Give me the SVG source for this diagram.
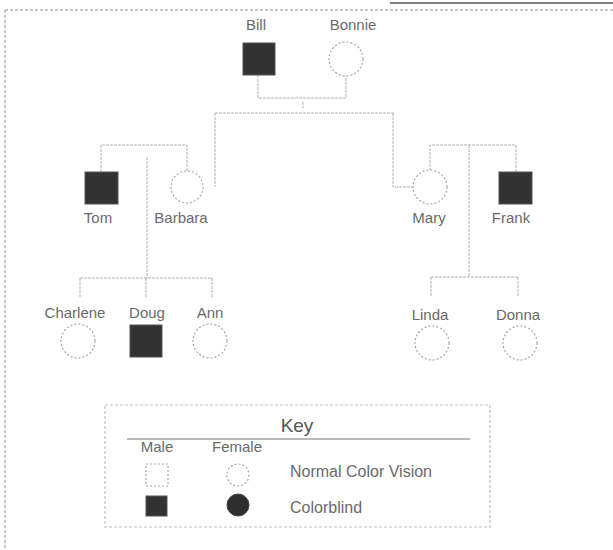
<svg xmlns="http://www.w3.org/2000/svg" width="613" height="550" viewBox="0 0 613 550">
<style>
  .lbl { font-family: "Liberation Sans", Arial, sans-serif; font-size: 15px; fill: #6a6a6a; text-anchor: middle; }
  .conn line, .conn polyline { stroke: #b0b0b0; stroke-width: 1; fill: none; stroke-dasharray: 3 1; }
  .female { fill: #fff; stroke: #a8a8a8; stroke-width: 1.2; stroke-dasharray: 2 2; }
  .male-cb { fill: #323232; stroke: #555; stroke-width: 1; }
  .male-n { fill: #fff; stroke: #a8a8a8; stroke-width: 1.2; stroke-dasharray: 2 2; }
  .fem-cb { fill: #2e2e2e; stroke: #444; stroke-width: 1; }
  .frame { stroke: #b8b8b8; stroke-width: 1.5; stroke-dasharray: 3 2; fill: none; }
</style>
<rect width="613" height="550" fill="#fff"/>
<g id="frame">
  <line class="frame" x1="5" y1="10" x2="613" y2="10"/>
  <line class="frame" x1="5" y1="10" x2="5" y2="550"/>
  <line x1="390" y1="3" x2="613" y2="3" stroke="#555" stroke-width="1.5"/>
</g>
<g class="conn" id="connectors">
  <polyline points="258,75 258,98 346,98 346,76"/>
  <line x1="303" y1="102" x2="303" y2="108"/>
  <line x1="215" y1="113" x2="394" y2="113"/>
  <line x1="215" y1="113" x2="215" y2="187"/>
  <polyline points="393,113 393,187 413,187"/>
  <polyline points="101,172 101,145 187,145 187,171"/>
  <line x1="147" y1="157" x2="147" y2="278"/>
  <line x1="80" y1="278" x2="212" y2="278"/>
  <line x1="80" y1="278" x2="80" y2="298"/>
  <line x1="146" y1="278" x2="146" y2="298"/>
  <line x1="212" y1="278" x2="212" y2="298"/>
  <polyline points="430,171 430,145 516,145 516,172"/>
  <line x1="469" y1="145" x2="469" y2="277"/>
  <line x1="431" y1="277" x2="518" y2="277"/>
  <line x1="431" y1="277" x2="431" y2="297"/>
  <line x1="518" y1="277" x2="518" y2="297"/>
</g>
<g id="bill"><rect class="male-cb" x="243" y="43" width="32" height="32"/><text class="lbl" x="256" y="30">Bill</text></g>
<g id="bonnie"><circle class="female" cx="346" cy="59" r="17"/><text class="lbl" x="353" y="30">Bonnie</text></g>
<g id="tom"><rect class="male-cb" x="85" y="172" width="33" height="32"/><text class="lbl" x="98" y="223">Tom</text></g>
<g id="barbara"><circle class="female" cx="187" cy="187" r="16"/><text class="lbl" x="181" y="223">Barbara</text></g>
<g id="mary"><circle class="female" cx="430" cy="187" r="17"/><text class="lbl" x="429" y="223">Mary</text></g>
<g id="frank"><rect class="male-cb" x="499" y="172" width="33" height="32"/><text class="lbl" x="511" y="223">Frank</text></g>
<g id="charlene"><circle class="female" cx="78" cy="341" r="17"/><text class="lbl" x="75" y="318">Charlene</text></g>
<g id="doug"><rect class="male-cb" x="130" y="325" width="32" height="32"/><text class="lbl" x="147" y="318">Doug</text></g>
<g id="ann"><circle class="female" cx="210" cy="341" r="17"/><text class="lbl" x="210" y="318">Ann</text></g>
<g id="linda"><circle class="female" cx="432" cy="343" r="17"/><text class="lbl" x="430" y="320">Linda</text></g>
<g id="donna"><circle class="female" cx="520" cy="343" r="17"/><text class="lbl" x="518" y="320">Donna</text></g>
<g id="key">
  <rect x="105" y="405" width="385" height="122" fill="#fff" stroke="#c0c0c0" stroke-width="1.2" stroke-dasharray="3 2"/>
  <text class="lbl" x="297" y="432" style="font-size:19px;fill:#555">Key</text>
  <line x1="127" y1="439" x2="470" y2="439" stroke="#777" stroke-width="1"/>
  <text class="lbl" x="157" y="452">Male</text>
  <text class="lbl" x="237" y="452">Female</text>
  <rect class="male-n" x="146" y="464" width="22" height="22"/>
  <circle class="female" cx="238" cy="475" r="11"/>
  <text class="lbl" x="290" y="477" style="text-anchor:start;font-size:16px">Normal Color Vision</text>
  <rect class="male-cb" x="146" y="496" width="21" height="20"/>
  <circle class="fem-cb" cx="238" cy="505" r="11"/>
  <text class="lbl" x="290" y="513" style="text-anchor:start;font-size:16px">Colorblind</text>
</g>
</svg>
